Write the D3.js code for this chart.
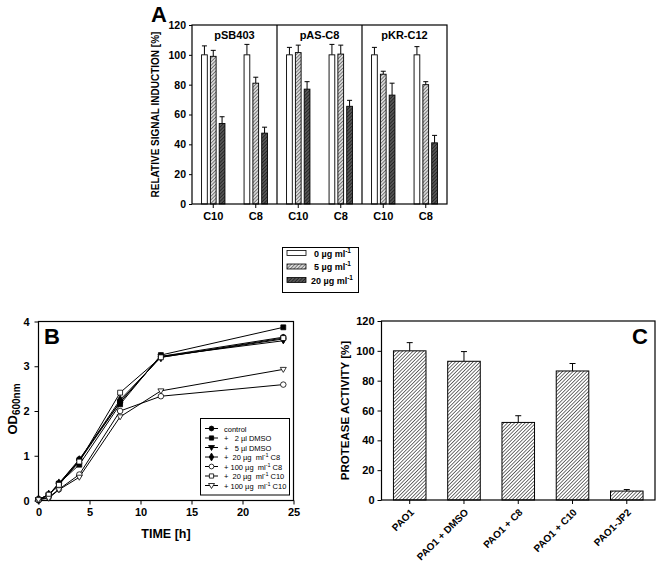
<!DOCTYPE html>
<html lang="en">
  <head>
    <meta charset="UTF-8" />
    <title>Figure A-C</title>
    <style>
      html,
      body {
        margin: 0;
        background: #fff;
      }
      svg text {
        font-family: "Liberation Sans", Arial, sans-serif;
        font-weight: bold;
        fill: #000;
      }
      .axis path,
      .axis line {
        stroke: #000;
      }
    </style>
    <script src="https://cdn.jsdelivr.net/npm/d3@7"></script>
  </head>

  <body>
    <script>
      const width = 662;
      const height = 567;

      // ---- panel A data ----
      const reporters = ["pSB403", "pAS-C8", "pKR-C12"];
      const signals = ["C10", "C8"];
      const doses = ["0", "5", "20"];
      const doseLabels = ["0 µg ml", "5 µg ml", "20 µg ml"];
      // one row per reporter/signal group, one value per dose
      const inductionMean = [
        [100, 99, 54],
        [100, 81, 47.5],
        [100, 101.5, 77],
        [100, 100.5, 65.5],
        [100, 87, 73],
        [100, 80, 41],
      ];
      const inductionErr = [
        [6, 4, 4.5],
        [7, 4, 4],
        [5, 5, 5],
        [7, 6, 4],
        [5, 2, 8],
        [5.5, 2, 5],
      ];
      const yTicksA = [0, 20, 40, 60, 80, 100, 120];

      // ---- panel B data ----
      const timeH = [0, 1, 2, 4, 8, 12, 24];
      const odControl = [0.02, 0.12, 0.38, 0.92, 2.2, 3.22, 3.65];
      const odDmso2 = [0.02, 0.13, 0.38, 0.8, 2.15, 3.25, 3.87];
      const odDmso5 = [0.02, 0.12, 0.37, 0.88, 2.2, 3.22, 3.57];
      const odC8_20 = [0.02, 0.13, 0.38, 0.9, 2.25, 3.2, 3.61];
      const odC8_100 = [0.02, 0.07, 0.25, 0.58, 2.0, 2.33, 2.59];
      const odC10_20 = [0.02, 0.13, 0.35, 0.87, 2.41, 3.2, 3.63];
      const odC10_100 = [0.02, 0.05, 0.24, 0.52, 1.87, 2.45, 2.93];
      const xTicksB = [0, 5, 10, 15, 20, 25];
      const yTicksB = [0, 1, 2, 3, 4];

      // ---- panel C data ----
      const strains = ["PAO1", "PAO1 + DMSO", "PAO1 + C8", "PAO1 + C10", "PAO1-JP2"];
      const protease = [100, 93, 52, 86.5, 6];
      const proteaseErr = [5.5, 6.5, 4.5, 5, 1];
      const yTicksC = [0, 20, 40, 60, 80, 100, 120];

      const svg = d3
        .select("body")
        .append("svg")
        .attr("width", width)
        .attr("height", height);

      // patterns
      const defs = svg.append("defs");
      function hatch(id, size, bg, fg, sw) {
        const p = defs
          .append("pattern")
          .attr("id", id)
          .attr("patternUnits", "userSpaceOnUse")
          .attr("width", size)
          .attr("height", size)
          .attr("patternTransform", "rotate(45)");
        p.append("rect").attr("width", size).attr("height", size).attr("fill", bg);
        p.append("line")
          .attr("x1", 0).attr("x2", 0).attr("y1", 0).attr("y2", size)
          .attr("stroke", fg).attr("stroke-width", sw);
      }
      hatch("dose5", 2.5, "#d8d8d8", "#444", 1.2);
      hatch("dose20", 2.5, "#555", "#111", 1.2);
      hatch("hatchC", 2.5, "#fff", "#000", 1.1);

      const doseFill = ["#fff", "url(#dose5)", "url(#dose20)"];

      function styleAxis(g, size) {
        g.attr("class", "axis");
        g.selectAll("text").style("font-size", size + "px");
        g.select(".domain").remove();
      }

      // ================= panel A =================
      const mA = { left: 192, right: 447, top: 25, bottom: 204 };
      const groupKeys = [];
      reporters.forEach((r) => signals.forEach((s) => groupKeys.push(r + "|" + s)));

      const xA = d3
        .scaleBand()
        .domain(groupKeys)
        .range([mA.left, mA.right])
        .paddingInner(0.45)
        .paddingOuter(0.225);
      const xDose = d3
        .scaleBand()
        .domain(doses)
        .range([0, xA.bandwidth()])
        .paddingInner(0.35);
      const yA = d3.scaleLinear().domain([0, 120]).range([mA.bottom, mA.top]);

      const gA = svg.append("g");
      groupKeys.forEach((key, gi) => {
        const grp = gA.append("g").attr("transform", `translate(${xA(key)},0)`);
        doses.forEach((d, di) => {
          const v = inductionMean[gi][di];
          const e = inductionErr[gi][di];
          const bx = xDose(d);
          const cx = bx + xDose.bandwidth() / 2;
          grp.append("line")
            .attr("x1", cx).attr("x2", cx)
            .attr("y1", yA(v)).attr("y2", yA(v + e))
            .attr("stroke", "#000").attr("stroke-width", 1);
          grp.append("line")
            .attr("x1", cx - 2.5).attr("x2", cx + 2.5)
            .attr("y1", yA(v + e)).attr("y2", yA(v + e))
            .attr("stroke", "#000").attr("stroke-width", 1);
          grp.append("rect")
            .attr("x", bx)
            .attr("width", xDose.bandwidth())
            .attr("y", yA(v))
            .attr("height", yA(0) - yA(v))
            .attr("fill", doseFill[di])
            .attr("stroke", "#000")
            .attr("stroke-width", 0.9);
        });
      });

      // frame + dividers
      svg.append("rect")
        .attr("x", mA.left).attr("y", mA.top)
        .attr("width", mA.right - mA.left).attr("height", mA.bottom - mA.top)
        .attr("fill", "none").attr("stroke", "#000").attr("stroke-width", 1.2);
      reporters.forEach((r, i) => {
        const x0 = xA(r + "|C10") - xA.step() * xA.paddingOuter();
        if (i > 0) {
          svg.append("line")
            .attr("x1", x0).attr("x2", x0)
            .attr("y1", mA.top).attr("y2", mA.bottom)
            .attr("stroke", "#000").attr("stroke-width", 1.2);
        }
        svg.append("text")
          .attr("x", x0 + xA.step())
          .attr("y", mA.top + 14)
          .attr("text-anchor", "middle")
          .style("font-size", "11px")
          .text(r);
      });

      svg.append("g")
        .attr("transform", `translate(0,${mA.bottom})`)
        .call(d3.axisBottom(xA).tickSize(4).tickPadding(4).tickFormat((k) => k.split("|")[1]))
        .call((g) => styleAxis(g, 11));
      svg.append("g")
        .attr("transform", `translate(${mA.left},0)`)
        .call(d3.axisLeft(yA).tickValues(yTicksA).tickSize(3).tickPadding(3))
        .call((g) => styleAxis(g, 10.5));

      svg.append("text")
        .attr("transform", `translate(159,${(mA.top + mA.bottom) / 2}) rotate(-90)`)
        .attr("text-anchor", "middle")
        .style("font-size", "10px")
        .text("RELATIVE SIGNAL INDUCTION [%]");
      svg.append("text")
        .attr("x", 151).attr("y", 22)
        .style("font-size", "22px")
        .text("A");

      // legend A
      const legA = svg.append("g");
      legA.append("rect")
        .attr("x", 282.5).attr("y", 247.5)
        .attr("width", 76).attr("height", 45)
        .attr("fill", "#fff").attr("stroke", "#000").attr("stroke-width", 1);
      doseLabels.forEach((lab, i) => {
        const y = 253 + i * 13.5;
        legA.append("rect")
          .attr("x", 287).attr("y", y - 2.5)
          .attr("width", 19).attr("height", 5)
          .attr("fill", doseFill[i]).attr("stroke", "#000").attr("stroke-width", 0.8);
        const t = legA.append("text")
          .attr("x", i === 2 ? 311 : 314)
          .attr("y", y + 3.5)
          .style("font-size", "9px");
        t.append("tspan").text(lab);
        t.append("tspan").attr("dy", -4).style("font-size", "6.5px").text("-1");
      });

      // ================= panel B =================
      const mB = { left: 38.5, right: 293.5, top: 321.5, bottom: 500.5 };
      const xB = d3.scaleLinear().domain([0, 25]).range([mB.left, mB.right]);
      const yB = d3.scaleLinear().domain([0, 4]).range([mB.bottom, mB.top]);

      svg.append("rect")
        .attr("x", mB.left).attr("y", mB.top)
        .attr("width", mB.right - mB.left).attr("height", mB.bottom - mB.top)
        .attr("fill", "none").attr("stroke", "#000").attr("stroke-width", 1.2);
      svg.append("g")
        .attr("transform", `translate(0,${mB.bottom})`)
        .call(d3.axisBottom(xB).tickValues(xTicksB).tickFormat(d3.format("d")).tickSize(4).tickPadding(4))
        .call((g) => styleAxis(g, 11));
      svg.append("g")
        .attr("transform", `translate(${mB.left},0)`)
        .call(d3.axisLeft(yB).tickValues(yTicksB).tickFormat(d3.format("d")).tickSize(4).tickPadding(5))
        .call((g) => styleAxis(g, 11));

      const seriesB = [
        { name: "control", vals: odControl, sym: d3.symbolCircle, fill: "#000" },
        { name: "+   2 µl DMSO", vals: odDmso2, sym: d3.symbolSquare, fill: "#000" },
        { name: "+   5 µl DMSO", vals: odDmso5, sym: "tri", fill: "#000" },
        { name: "+  20 µg  ml|C8", vals: odC8_20, sym: d3.symbolDiamond, fill: "#000" },
        { name: "+ 100 µg  ml|C8", vals: odC8_100, sym: d3.symbolCircle, fill: "#fff" },
        { name: "+  20 µg  ml|C10", vals: odC10_20, sym: d3.symbolSquare, fill: "#fff" },
        { name: "+ 100 µg  ml|C10", vals: odC10_100, sym: "tri", fill: "#fff" },
      ];

      function markerPath(sym, size) {
        if (sym === "tri") {
          return "M-3,-2L3,-2L0,3Z";
        }
        return d3.symbol().type(sym).size(size)();
      }

      const lineB = d3.line().x((d) => xB(d[0])).y((d) => yB(d[1]));
      const gB = svg.append("g");
      seriesB.forEach((s) => {
        const pts = timeH.map((t, i) => [t, s.vals[i]]);
        gB.append("path")
          .attr("d", lineB(pts))
          .attr("fill", "none")
          .attr("stroke", "#000")
          .attr("stroke-width", 1);
      });
      seriesB.forEach((s) => {
        const pts = timeH.map((t, i) => [t, s.vals[i]]);
        gB.selectAll(null)
          .data(pts)
          .enter()
          .append("path")
          .attr("transform", (d) => `translate(${xB(d[0])},${yB(d[1])})`)
          .attr("d", markerPath(s.sym, 24))
          .attr("fill", s.fill)
          .attr("stroke", "#000")
          .attr("stroke-width", 0.8);
      });

      svg.append("text")
        .attr("x", 44).attr("y", 344)
        .style("font-size", "22px")
        .text("B");

      svg.append("text")
        .attr("x", (mB.left + mB.right) / 2).attr("y", 538)
        .attr("text-anchor", "middle")
        .style("font-size", "12.5px")
        .text("TIME [h]");
      const odLab = svg.append("text")
        .attr("transform", `translate(17,409) rotate(-90)`)
        .attr("text-anchor", "middle")
        .style("font-size", "13px");
      odLab.append("tspan").text("OD");
      odLab.append("tspan").attr("dy", 3).style("font-size", "10px").text("600nm");

      // legend B
      const legB = svg.append("g");
      legB.append("rect")
        .attr("x", 200.5).attr("y", 418.5)
        .attr("width", 89).attr("height", 76.5)
        .attr("fill", "#fff").attr("stroke", "#000").attr("stroke-width", 1);
      seriesB.forEach((s, i) => {
        const y = 428.5 + i * 9.5;
        legB.append("line")
          .attr("x1", 205).attr("x2", 218)
          .attr("y1", y).attr("y2", y)
          .attr("stroke", "#000").attr("stroke-width", 1);
        legB.append("path")
          .attr("transform", `translate(211.5,${y})`)
          .attr("d", markerPath(s.sym, 18))
          .attr("fill", s.fill)
          .attr("stroke", "#000")
          .attr("stroke-width", 0.8);
        const parts = s.name.split("|");
        const t = legB.append("text")
          .attr("x", 224)
          .attr("y", y + 3)
          .attr("xml:space", "preserve")
          .style("font-size", "7.5px")
          .style("font-weight", "normal");
        t.append("tspan").text(parts[0]);
        if (parts.length > 1) {
          t.append("tspan").attr("dy", -3).style("font-size", "5.5px").text("-1");
          t.append("tspan").attr("dy", 3).text(" " + parts[1]);
        }
      });

      // ================= panel C =================
      const mC = { left: 381.5, right: 655, top: 321, bottom: 500 };
      const xC = d3
        .scaleBand()
        .domain(strains)
        .range([mC.left, mC.right])
        .paddingInner(0.4)
        .paddingOuter(0.22);
      const yC = d3.scaleLinear().domain([0, 120]).range([mC.bottom, mC.top]);

      const gC = svg.append("g");
      strains.forEach((s, i) => {
        const cx = xC(s) + xC.bandwidth() / 2;
        const top = protease[i] + proteaseErr[i];
        gC.append("line")
          .attr("x1", cx).attr("x2", cx)
          .attr("y1", yC(protease[i])).attr("y2", yC(top))
          .attr("stroke", "#000").attr("stroke-width", 1);
        gC.append("line")
          .attr("x1", cx - 3).attr("x2", cx + 3)
          .attr("y1", yC(top)).attr("y2", yC(top))
          .attr("stroke", "#000").attr("stroke-width", 1);
        gC.append("rect")
          .attr("x", xC(s))
          .attr("width", xC.bandwidth())
          .attr("y", yC(protease[i]))
          .attr("height", yC(0) - yC(protease[i]))
          .attr("fill", "url(#hatchC)")
          .attr("stroke", "#000")
          .attr("stroke-width", 1);
      });

      svg.append("rect")
        .attr("x", mC.left).attr("y", mC.top)
        .attr("width", mC.right - mC.left).attr("height", mC.bottom - mC.top)
        .attr("fill", "none").attr("stroke", "#000").attr("stroke-width", 1.2);

      svg.append("g")
        .attr("transform", `translate(0,${mC.bottom})`)
        .call(d3.axisBottom(xC).tickSize(4).tickPadding(3))
        .call((g) => {
          styleAxis(g, 10);
          g.selectAll("text")
            .attr("text-anchor", "end")
            .attr("y", 0)
            .attr("dy", null)
            .attr("transform", "translate(5,13) rotate(-45)");
        });
      svg.append("g")
        .attr("transform", `translate(${mC.left},0)`)
        .call(d3.axisLeft(yC).tickValues(yTicksC).tickSize(4).tickPadding(3))
        .call((g) => styleAxis(g, 11));

      svg.append("text")
        .attr("transform", `translate(349,${(mC.top + mC.bottom) / 2}) rotate(-90)`)
        .attr("text-anchor", "middle")
        .style("font-size", "11.5px")
        .text("PROTEASE ACTIVITY [%]");
      svg.append("text")
        .attr("x", 632).attr("y", 344)
        .style("font-size", "22px")
        .text("C");
    </script>
  </body>
</html>
